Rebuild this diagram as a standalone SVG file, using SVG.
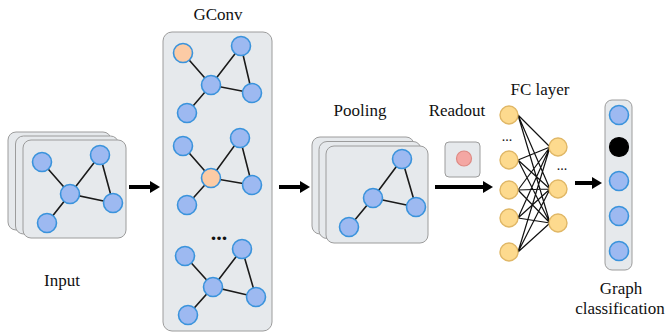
<svg xmlns="http://www.w3.org/2000/svg" width="667" height="334" viewBox="0 0 667 334">
<style>
.bg{fill:#ffffff}
.card{fill:#E6E9EC;stroke:#9C9C9C;stroke-width:1}
.e{stroke:#1a1a1a;stroke-width:1.6;fill:none}
.n{fill:#9DB9F1;stroke:#3A93DC;stroke-width:1.6}
.o{fill:#FCCBA5;stroke:#3A93DC;stroke-width:1.6}
.y{fill:#FDDA8E;stroke:#E0B766;stroke-width:1.4}
.r{fill:#F4A7A3;stroke:#DE8A84;stroke-width:1.2}
.k{fill:#000000;stroke:#000000;stroke-width:1.2}
.t{font-family:"Liberation Serif","Times New Roman",serif;font-size:17px;fill:#111;text-anchor:middle}
.fe{stroke:#111;stroke-width:1.2;fill:none}
.arr{stroke:#000;stroke-width:4;fill:none;marker-end:url(#ah)}
</style>
<defs>
<marker id="ah" markerUnits="userSpaceOnUse" markerWidth="11" markerHeight="13" refX="3" refY="6.5" orient="auto">
<path d="M0,0.5 L10,6.5 L0,12.5 z" fill="#000"/>
</marker>
</defs>
<rect class="bg" x="0" y="0" width="667" height="334"/>

<g id="input">
<rect class="card" x="8" y="132" width="103" height="98" rx="8"/>
<rect class="card" x="15.5" y="136" width="103" height="98" rx="8"/>
<rect class="card" x="23" y="140" width="103" height="98" rx="8"/>
<path class="e" d="M42,162 L70,194 L100,155 L113,203 L70,194 L47,223"/>
<circle class="n" cx="42" cy="162" r="9.5"/>
<circle class="n" cx="100" cy="155" r="9.5"/>
<circle class="n" cx="70" cy="194" r="9.5"/>
<circle class="n" cx="113" cy="203" r="9.5"/>
<circle class="n" cx="47" cy="223" r="9.5"/>
<text class="t" x="62" y="286">Input</text>
</g>

<g id="gconv">
<text class="t" x="218" y="20">GConv</text>
<rect class="card" x="163" y="32" width="109" height="299" rx="9"/>
<path class="e" d="M183,53 L211,85 L241,46 L252,93 L211,85 L187,113"/>
<circle class="o" cx="183" cy="53" r="9.5"/>
<circle class="n" cx="241" cy="46" r="9.5"/>
<circle class="n" cx="211" cy="85" r="9.5"/>
<circle class="n" cx="252" cy="93" r="9.5"/>
<circle class="n" cx="187" cy="113" r="9.5"/>
<path class="e" d="M183,146 L211,178 L240,138 L252,185 L211,178 L187,205"/>
<circle class="n" cx="183" cy="146" r="9.5"/>
<circle class="n" cx="240" cy="138" r="9.5"/>
<circle class="o" cx="211" cy="178" r="9.5"/>
<circle class="n" cx="252" cy="185" r="9.5"/>
<circle class="n" cx="187" cy="205" r="9.5"/>
<text x="219" y="240" font-family="Liberation Serif, serif" font-size="22" font-weight="bold" text-anchor="middle" fill="#111">...</text>
<path class="e" d="M185,256 L213,287 L242,249 L256,297 L213,287 L188,315"/>
<circle class="n" cx="185" cy="256" r="9.5"/>
<circle class="n" cx="242" cy="249" r="9.5"/>
<circle class="n" cx="213" cy="287" r="9.5"/>
<circle class="n" cx="256" cy="297" r="9.5"/>
<circle class="n" cx="188" cy="315" r="9.5"/>
</g>

<g id="pooling">
<text class="t" x="360" y="116">Pooling</text>
<rect class="card" x="312" y="137" width="102" height="97" rx="8"/>
<rect class="card" x="319" y="141.5" width="102" height="97" rx="8"/>
<rect class="card" x="326" y="146" width="102" height="97" rx="8"/>
<path class="e" d="M402,159 L373,198 L416,207 L402,159 M373,198 L349,227"/>
<circle class="n" cx="402" cy="159" r="9.5"/>
<circle class="n" cx="373" cy="198" r="9.5"/>
<circle class="n" cx="416" cy="207" r="9.5"/>
<circle class="n" cx="349" cy="227" r="9.5"/>
</g>

<g id="readout">
<text class="t" x="457" y="116">Readout</text>
<rect class="card" x="445" y="142" width="35" height="35" rx="4"/>
<circle class="r" cx="464" cy="158.5" r="7.5"/>
</g>

<g id="fc">
<text class="t" x="540" y="95">FC layer</text>
<path class="fe" d="M518,115 L550,147 M518,115 L550,189 M518,115 L550,223
M518,160 L550,147 M518,160 L550,189 M518,160 L550,223
M518,190 L550,147 M518,190 L550,189 M518,190 L550,223
M518,218 L550,147 M518,218 L550,189 M518,218 L550,223
M518,252 L550,147 M518,252 L550,189 M518,252 L550,223"/>
<circle class="y" cx="509" cy="115" r="9"/>
<circle class="y" cx="509" cy="160" r="9"/>
<circle class="y" cx="509" cy="190" r="9"/>
<circle class="y" cx="509" cy="218" r="9"/>
<circle class="y" cx="509" cy="252" r="9"/>
<circle class="y" cx="558" cy="147" r="9"/>
<circle class="y" cx="558" cy="189" r="9"/>
<circle class="y" cx="558" cy="223" r="9"/>
<text x="507" y="141" font-family="Liberation Serif, serif" font-size="14" text-anchor="middle" fill="#111">...</text>
<text x="562" y="170" font-family="Liberation Serif, serif" font-size="14" text-anchor="middle" fill="#111">...</text>
</g>

<g id="output">
<rect class="card" x="605" y="100" width="27" height="170" rx="7"/>
<circle class="n" cx="619" cy="115" r="9.5"/>
<circle class="k" cx="619" cy="147" r="9.5"/>
<circle class="n" cx="619" cy="181" r="9.5"/>
<circle class="n" cx="619" cy="216" r="9.5"/>
<circle class="n" cx="619" cy="251" r="9.5"/>
<text class="t" x="621" y="294">Graph</text>
<text class="t" x="620" y="314" font-size="16.5">classification</text>
</g>

<g id="connectors">
<line class="arr" x1="129" y1="187" x2="153" y2="187"/>
<line class="arr" x1="279" y1="187" x2="303" y2="187"/>
<line class="arr" x1="435" y1="187" x2="486" y2="187"/>
<line class="arr" x1="575" y1="183" x2="595" y2="183"/>
</g>
</svg>
